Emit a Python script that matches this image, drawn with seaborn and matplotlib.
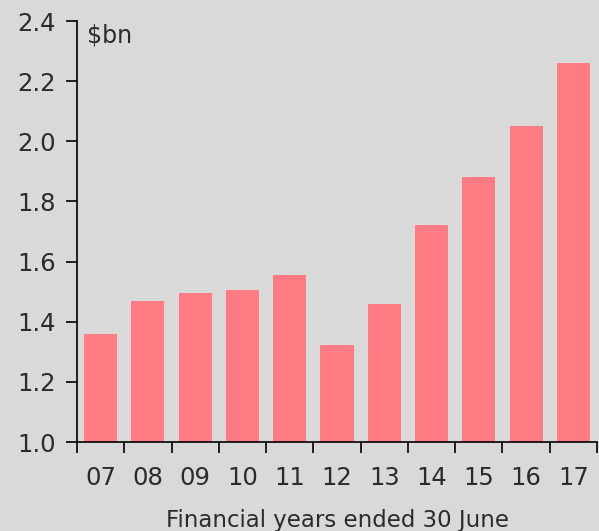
import numpy as np
import pandas as pd
import seaborn as sns
import matplotlib.pyplot as plt
from matplotlib.ticker import FixedLocator

years = ["07", "08", "09", "10", "11", "12", "13", "14", "15", "16", "17"]
values = [1.36, 1.47, 1.495, 1.505, 1.555, 1.323, 1.46, 1.722, 1.88, 2.05, 2.26]

df = pd.DataFrame({"year": years, "value": values})

sns.set_style("ticks")
plt.rcParams["font.family"] = ["DejaVu Sans"]

bg = "#d9d9d9"
txt = "#2b2b2b"

fig = plt.figure(figsize=(5.99, 5.31), dpi=100, facecolor=bg)
ax = fig.add_axes([77 / 599, 1 - 442 / 531, 520 / 599, 421 / 531])
ax.set_facecolor(bg)

sns.barplot(data=df, x="year", y="value", color="#ff7b83", saturation=1,
            width=0.7, linewidth=0, ax=ax)

ax.set_ylim(1.0, 2.4)
ax.set_xlim(-0.5, len(years) - 0.5)
ax.set_yticks(np.arange(1.0, 2.41, 0.2))
ax.set_yticklabels([f"{v:.1f}" for v in np.arange(1.0, 2.41, 0.2)])

# ticks between the categories
ax.xaxis.set_minor_locator(FixedLocator(np.arange(-0.5, len(years), 1.0)))
ax.tick_params(axis="x", which="major", length=0, pad=17, labelsize=17.5, colors=txt)
ax.tick_params(axis="x", which="minor", length=8, width=1.2, color="black", direction="out")
ax.tick_params(axis="y", length=8, width=1.2, color="black", direction="out",
               labelsize=17.5, labelcolor=txt, pad=7)

for s in ["top", "right"]:
    ax.spines[s].set_visible(False)
for s in ["left", "bottom"]:
    ax.spines[s].set_color("black")
    ax.spines[s].set_linewidth(1.2)

ax.set_ylabel("")
ax.set_xlabel("Financial years ended 30 June", fontsize=16.5, color=txt, labelpad=14)
ax.text(0.02, 0.995, "$bn", transform=ax.transAxes, fontsize=17, color=txt,
        va="top", ha="left")

fig.savefig("out.png", dpi=100, facecolor=bg)
